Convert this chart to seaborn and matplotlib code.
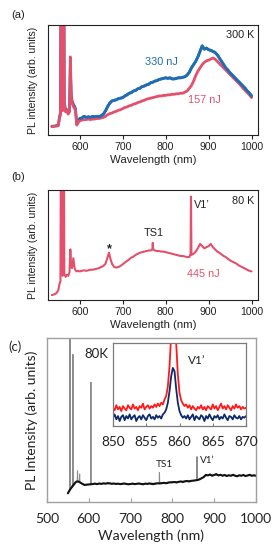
import numpy as np
import pandas as pd
import matplotlib
matplotlib.use("Agg")
import matplotlib.pyplot as plt
import seaborn as sns

sns.set_theme(style="ticks")
plt.rcParams['font.family'] = ['Liberation Sans', 'DejaVu Sans']

# ---------------- data ----------------
# panel (a): 300 K, two pulse energies
wl_a = [535, 540, 545, 550, 553, 555, 556, 557, 558, 560, 562, 563, 564, 567, 570, 573, 576, 578, 580, 582,
        585, 588, 590, 593, 596,
        600, 605, 610, 615, 620, 625, 630, 635, 640, 645, 650, 655, 660, 665, 670, 675, 680, 685, 690, 695,
        700, 705, 710, 715, 720, 725, 730, 735, 740, 745, 750, 755, 760, 765, 770, 775, 780, 785, 790, 795,
        800, 805, 810, 815, 820, 825, 830, 835, 840, 845, 850, 855, 860, 865, 870, 875, 880, 885, 890, 895,
        900, 905, 910, 915, 920, 925, 930, 935, 940, 945, 950, 955, 960, 965, 970, 975, 980, 985, 990, 995,
        1000]
pl_330nJ = [.08, .08, .085, .09, .17, .20, 1.4, 1.4, .30, .24, 1.4, 1.4, .30, .22, .23, .20, .22, .62, .38, .31,
            .28, .26, .24, .10, .12,
            .15, .155, .17, .16, .165, .16, .17, .165, .17, .165, .175, .19, .22, .26, .29, .31, .315, .32, .33, .335,
            .34, .355, .365, .38, .385, .40, .405, .42, .425, .44, .445, .455, .46, .475, .48, .49, .495, .505, .51, .515,
            .52, .515, .52, .51, .51, .515, .52, .52, .525, .53, .545, .57, .61, .64, .67, .71, .76, .81, .78, .79,
            .775, .77, .76, .75, .73, .70, .67, .64, .61, .59, .565, .545, .525, .505, .485, .465, .445, .425, .40, .38,
            .355]
pl_157nJ = [.075, .08, .08, .085, .16, .18, 1.4, 1.4, .28, .22, 1.4, 1.4, .28, .21, .22, .19, .21, .71, .36, .29,
            .26, .24, .22, .09, .11,
            .13, .135, .14, .14, .145, .14, .145, .145, .15, .15, .155, .16, .17, .185, .195, .20, .21, .215, .225, .23,
            .24, .25, .255, .265, .27, .28, .285, .295, .30, .31, .315, .325, .33, .335, .34, .345, .35, .355, .355, .36,
            .36, .365, .365, .37, .37, .375, .375, .38, .38, .39, .40, .425, .45, .49, .54, .58, .61, .64, .66, .675,
            .68, .69, .70, .69, .67, .65, .63, .61, .59, .57, .55, .53, .51, .49, .47, .45, .425, .405, .385, .365,
            .34]

# panel (b): 80 K, 445 nJ
wl_b = [535, 540, 545, 548, 550, 553, 555, 556, 557, 558, 560, 562, 563, 564, 567, 570, 573, 576, 578, 580,
        582, 585, 588, 590, 593, 596,
        600, 605, 610, 615, 620, 625, 630, 635, 640, 645, 650, 655, 660, 664, 668, 671, 675, 680, 685, 690,
        695, 700, 705, 710, 715, 720, 725, 730, 735, 740, 745, 750, 755, 760, 765, 769, 770, 771, 775, 780,
        785, 790, 795, 800, 805, 810, 815, 820, 825, 830, 835, 840, 845, 850, 855, 858, 859, 860, 865, 870,
        875, 880, 885, 890, 895, 900, 905, 910, 915, 920, 925, 930, 935, 940, 945, 950, 955, 960, 965, 970,
        975, 980, 985, 990, 995, 1000]
pl_445nJ = [.045, .05, .06, .076, .09, .15, .17, 1.4, 1.4, .25, .22, 1.4, 1.4, .24, .21, .23, .22, .25, .46, .30,
            .29, .38, .29, .27, .26, .265,
            .26, .265, .27, .265, .27, .275, .275, .28, .285, .29, .30, .31, .33, .38, .43, .38, .33, .30, .295, .30,
            .31, .325, .34, .355, .37, .385, .395, .41, .42, .43, .435, .44, .445, .45, .45, .46, .52, .46, .45, .445,
            .445, .44, .44, .435, .43, .425, .42, .415, .41, .405, .40, .40, .395, .39, .39, .42, .94, .41, .42, .44,
            .47, .51, .49, .47, .48, .49, .51, .48, .46, .44, .43, .415, .40, .39, .375, .36, .35, .34, .33, .315,
            .305, .295, .285, .275, .265, .26]

# panel (c): 80 K survey spectrum (gray raw trace with sharp lines, black trace on top)
wl_c_gray = [550, 554, 555, 556, 561, 562, 563, 570, 572.5, 573, 573.5, 577.5, 578, 578.5, 590, 604.5, 605, 605.5,
             620, 700, 768.5, 769, 769.5, 858.5, 859, 859.5, 870, 880, 1000]
pl_c_gray = [.053, .075, 1.2, .085, .09, .90, .095, .124, .13, .19, .13, .12, .17, .12, .104, .107, .73, .107,
             .112, .11, .116, .18, .116, .133, .276, .134, .145, .165, .16]
wl_c = [550, 555, 560, 565, 570, 575, 580, 585, 590, 595, 600, 605, 610, 615, 620, 625,
        630, 635, 640, 645, 650, 655, 660, 665, 670, 675, 680, 685, 690, 695, 700, 705, 710, 715, 720, 725,
        730, 735, 740, 745, 750, 755, 760, 765, 770, 775, 780, 785, 790, 795, 800, 805, 810, 815, 820,
        825, 830, 835, 840, 845, 850, 855, 860, 865, 870, 875, 880, 885, 890, 895, 900, 905, 910, 915,
        920, 925, 930, 935, 940, 945, 950, 955, 960, 965, 970, 975, 980, 985, 990, 995, 1000]
pl_c_black = [.053, .075, .093, .11, .124, .125, .118, .11, .104, .106, .107, .108, .11, .112, .109, .113,
              .11, .114, .112, .115, .114, .111, .113, .11, .112, .109, .111, .113, .11, .108, .11, .112, .109, .111, .113, .11,
              .108, .112, .11, .113, .11, .109, .112, .114, .113, .115, .117, .114, .118, .12, .12, .122, .119, .123, .125,
              .122, .126, .128, .125, .129, .13, .132, .134, .138, .145, .152, .165, .162, .168, .16, .165, .17, .162, .166,
              .16, .165, .158, .163, .16, .166, .16, .157, .163, .16, .165, .158, .162, .166, .16, .163, .16]

# inset of (c): V1' line, two conditions
wl_in = [850.0, 850.25, 850.5, 850.75, 851.0, 851.25, 851.5, 851.75, 852.0, 852.25, 852.5, 852.75,
         853.0, 853.25, 853.5, 853.75, 854.0, 854.25, 854.5, 854.75, 855.0, 855.25, 855.5, 855.75,
         856.0, 856.25, 856.5, 856.75, 857.0, 857.25, 857.5, 857.75, 858.0, 858.25, 858.5, 858.75,
         859.0, 859.25, 859.5, 859.75, 860.0, 860.25, 860.5, 860.75, 861.0, 861.25, 861.5, 861.75,
         862.0, 862.25, 862.5, 862.75, 863.0, 863.25, 863.5, 863.75, 864.0, 864.25, 864.5, 864.75,
         865.0, 865.25, 865.5, 865.75, 866.0, 866.25, 866.5, 866.75, 867.0, 867.25, 867.5, 867.75,
         868.0, 868.25, 868.5, 868.75, 869.0, 869.25, 869.5, 869.75, 870.0]
in_red = [.22, .19, .25, .20, .23, .18, .24, .21, .19, .25, .22, .20, .26, .21, .23, .19,
          .24, .22, .27, .20, .23, .25, .21, .24, .22, .26, .23, .27, .24, .28, .26, .32,
          .36, .48, .72, 1.10, 1.40, 1.38, 1.00, .62, .40, .31, .27, .24,
          .26, .22, .25, .20, .24, .21, .19, .23, .21, .25, .20, .23, .19, .24, .22, .20,
          .26, .21, .24, .19, .23, .27, .21, .24, .20, .25, .22, .19, .24, .21, .26, .22,
          .24, .20, .23, .21, .22]
in_blue = [.10, .14, .08, .12, .06, .11, .13, .07, .12, .09, .14, .08, .11, .13, .06, .10,
           .12, .08, .13, .10, .07, .12, .14, .09, .11, .08, .13, .10, .12, .09, .14, .16,
           .20, .28, .42, .60, .70, .66, .45, .28, .18, .13, .10, .12,
           .09, .13, .08, .11, .14, .07, .12, .10, .08, .13, .11, .06, .12, .09, .14, .10,
           .07, .12, .10, .13, .08, .11, .09, .14, .10, .07, .12, .11, .08, .13, .10, .09,
           .12, .08, .11, .10, .12]

ticks_ab = [600, 700, 800, 900, 1000]
ticks_c = [500, 600, 700, 800, 900, 1000]
ticks_in = [850, 855, 860, 865, 870]

BLUE = "#1f6db3"
RED = "#e4506b"

W, H = 278, 550
fig = plt.figure(figsize=(W / 100, H / 100), dpi=100)


def px_axes(l, t, r, b):
    return fig.add_axes([l / W, 1 - b / H, (r - l) / W, (b - t) / H])


def line(ax, x, y, color, lw):
    df = pd.DataFrame({"wl": x, "pl": y})
    sns.lineplot(data=df, x="wl", y="pl", ax=ax, color=color, linewidth=lw,
                 estimator=None, sort=False, legend=False)


def style_ab(ax):
    ax.set_xlim(526, 1015)
    ax.set_ylim(0, 1)
    ax.set_xticks(ticks_ab)
    ax.set_yticks([])
    ax.tick_params(axis="x", direction="out", length=3, width=0.8, pad=2, labelsize=7.6, colors="#222222")
    for s in ax.spines.values():
        s.set_visible(True)
        s.set_color("#222222")
        s.set_linewidth(0.8)
    ax.set_xlabel("Wavelength (nm)", fontsize=8.2, labelpad=2, color="#222222")
    ax.set_ylabel("PL intensity (arb. units)", fontsize=7.6, color="#222222")
    ax.yaxis.set_label_coords(-0.047, 0.5)


# ---- (a)
axa = px_axes(48, 25, 258, 135)
line(axa, wl_a, pl_330nJ, BLUE, 2.0)
line(axa, wl_a, pl_157nJ, RED, 2.0)
line(axa, wl_a[25:], pl_330nJ[25:], BLUE, 2.0)
style_ab(axa)
axa.text(0.914, 0.905, "300 K", transform=axa.transAxes, ha="center", va="center", fontsize=7.8, color="#222222")
axa.text(0.538, 0.666, "330 nJ", transform=axa.transAxes, ha="center", va="center", fontsize=7.8, color=BLUE)
axa.text(0.743, 0.318, "157 nJ", transform=axa.transAxes, ha="center", va="center", fontsize=7.8, color=RED)

# ---- (b)
axb = px_axes(48, 190, 258, 300)
line(axb, wl_b, pl_445nJ, RED, 1.5)
style_ab(axb)
axb.text(0.929, 0.903, "80 K", transform=axb.transAxes, ha="center", va="center", fontsize=7.8, color="#222222")
axb.text(0.732, 0.864, "V1\u2019", transform=axb.transAxes, ha="center", va="center", fontsize=7.8, color="#222222")
axb.text(0.505, 0.612, "TS1", transform=axb.transAxes, ha="center", va="center", fontsize=7.8, color="#222222")
axb.text(0.29, 0.46, "*", transform=axb.transAxes, ha="center", va="center", fontsize=9, fontweight="bold", color="#222222")
axb.text(0.738, 0.236, "445 nJ", transform=axb.transAxes, ha="center", va="center", fontsize=7.8, color=RED)

# ---- (c)
axc = px_axes(47, 338, 256, 502)
line(axc, wl_c_gray, pl_c_gray, "#8c8c8c", 0.8)
line(axc, wl_c, pl_c_black, "#111111", 1.5)
axc.set_xlim(500, 1000)
axc.set_ylim(0, 1)
axc.set_xticks(ticks_c)
axc.set_yticks([])
axc.tick_params(axis="x", direction="in", length=3, width=0.8, pad=8, labelsize=10, colors="#222222",
                labelfontfamily="Lato")
for s in axc.spines.values():
    s.set_visible(True)
    s.set_color("#a0a0a0")
    s.set_linewidth(1.0)
axc.tick_params(axis="x", color="#a0a0a0")
axc.set_xlabel("Wavelength (nm)", fontsize=10.2, family="Lato", labelpad=3, color="#222222")
axc.set_ylabel("PL Intensity (arb. units)", fontsize=10, family="Lato", color="#222222")
axc.yaxis.set_label_coords(-0.045, 0.5)
axc.text(0.238, 0.90, "80K", transform=axc.transAxes, ha="center", va="center", fontsize=9.5, family="Lato", color="#222222")
axc.text(0.56, 0.226, "TS1", transform=axc.transAxes, ha="center", va="center", fontsize=7.2, family="Lato", color="#222222")
axc.text(0.766, 0.252, "V1\u2019", transform=axc.transAxes, ha="center", va="center", fontsize=7.2, family="Lato", color="#222222")

# inset
axi = px_axes(113, 343, 246, 426)
line(axi, wl_in, in_red, "#ff1a1a", 1.3)
line(axi, wl_in, in_blue, "#0d2a6b", 1.3)
axi.set_xlim(850, 870)
axi.set_ylim(0, 1)
axi.set_xticks(ticks_in)
axi.set_yticks([])
axi.set_xlabel("")
axi.set_ylabel("")
axi.tick_params(axis="x", direction="in", length=2.5, width=0.8, pad=7, labelsize=9.8, colors="#222222",
                labelfontfamily="Lato")
axi.tick_params(axis="x", color="#808080")
for s in axi.spines.values():
    s.set_visible(True)
    s.set_color("#7a7a7a")
    s.set_linewidth(0.9)
axi.text(0.629, 0.795, "V1\u2019", transform=axi.transAxes, ha="center", va="center", fontsize=8.5, family="Lato", color="#222222")

# panel letters
fig.text(18 / W, 1 - 15 / H, "(a)", ha="center", va="center", fontsize=8, color="#222222")
fig.text(18 / W, 1 - 177 / H, "(b)", ha="center", va="center", fontsize=8, color="#222222")
fig.text(15 / W, 1 - 347 / H, "(c)", ha="center", va="center", fontsize=9.5, family="Lato", color="#222222")

fig.savefig("out.png", dpi=100)
